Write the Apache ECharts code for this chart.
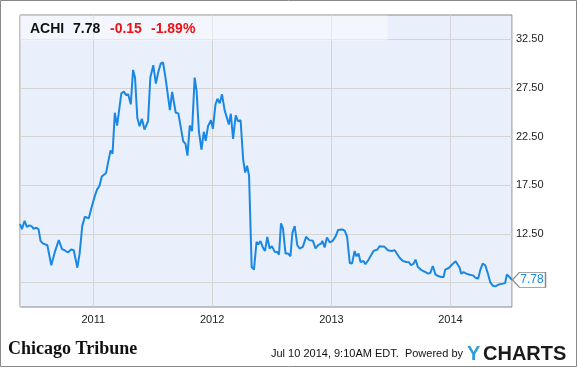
<!DOCTYPE html>
<html><head><meta charset="utf-8">
<script src="https://cdn.jsdelivr.net/npm/echarts@6/dist/echarts.min.js"></script>
<style>html,body{margin:0;padding:0;background:#fff}#c{width:578px;height:368px}</style>
</head><body><div id="c"></div>
<script>
const ticker = 'ACHI';
const lastPrice = '7.78';
const change = '-0.15';
const changePct = '-1.89%';
const yTickLabels = ['7.50','12.50','17.50','22.50','27.50','32.50'];
const dates = [
'2010-05-21','2010-05-27','2010-06-04','2010-06-11','2010-06-19','2010-06-26','2010-07-02','2010-07-10','2010-07-17','2010-07-23',
'2010-07-30','2010-08-13','2010-08-25','2010-09-05','2010-09-17','2010-09-27','2010-10-05','2010-10-10','2010-10-15','2010-10-25',
'2010-11-02','2010-11-13','2010-11-20','2010-11-28','2010-12-06','2010-12-18','2010-12-26','2011-01-05','2011-01-13','2011-01-20',
'2011-01-27','2011-02-09','2011-02-16','2011-02-23','2011-03-01','2011-03-08','2011-03-15','2011-03-28','2011-04-05','2011-04-11',
'2011-04-18','2011-04-26','2011-05-03','2011-05-09','2011-05-16','2011-05-23','2011-05-30','2011-06-07','2011-06-18','2011-06-25',
'2011-07-04','2011-07-12','2011-07-19','2011-07-27','2011-08-03','2011-08-11','2011-08-17','2011-08-24','2011-08-31','2011-09-11',
'2011-09-19','2011-10-04','2011-10-11','2011-10-17','2011-10-24','2011-10-31','2011-11-08','2011-11-14','2011-11-21','2011-11-29',
'2011-12-06','2011-12-12','2011-12-19','2011-12-28','2012-01-03','2012-01-11','2012-01-17','2012-01-24','2012-01-31','2012-02-08',
'2012-02-21','2012-02-27','2012-03-05','2012-03-13','2012-03-20','2012-03-28','2012-04-05','2012-04-11','2012-04-17','2012-04-23',
'2012-05-01','2012-05-08','2012-05-16','2012-05-21','2012-05-28','2012-06-05','2012-06-11','2012-06-18','2012-06-25','2012-07-02',
'2012-07-11','2012-07-18','2012-07-24','2012-07-30','2012-08-05','2012-08-13','2012-08-21','2012-08-28','2012-09-03','2012-09-10',
'2012-09-18','2012-09-25','2012-10-05','2012-10-15','2012-10-25','2012-11-05','2012-11-13','2012-11-21','2012-12-01','2012-12-04',
'2012-12-11','2012-12-18','2012-12-27','2013-01-05','2013-01-14','2013-01-21','2013-02-03','2013-02-11','2013-02-18','2013-02-26',
'2013-03-05','2013-03-13','2013-03-18','2013-03-25','2013-03-31','2013-04-09','2013-04-15','2013-04-25','2013-05-10','2013-05-22',
'2013-05-29','2013-06-13','2013-06-23','2013-07-04','2013-07-14','2013-07-29','2013-08-08','2013-08-19','2013-08-27','2013-09-02',
'2013-09-10','2013-09-16','2013-09-23','2013-10-01','2013-10-09','2013-10-17','2013-10-24','2013-10-31','2013-11-08','2013-11-16',
'2013-11-24','2013-12-04','2013-12-11','2013-12-16','2013-12-27','2014-01-07','2014-01-17','2014-01-22','2014-01-29','2014-02-03',
'2014-02-10','2014-02-19','2014-03-01','2014-03-11','2014-03-19','2014-03-27','2014-04-03','2014-04-10','2014-04-18','2014-04-26',
'2014-05-03','2014-05-11','2014-05-19','2014-05-30','2014-06-11','2014-06-18','2014-06-23','2014-07-01','2014-07-09'
];
const prices = [
13.52,13.00,13.86,13.24,13.39,13.28,13.04,13.14,12.97,11.80,
11.53,11.35,9.29,10.66,11.87,10.94,10.83,10.94,10.60,10.91,
10.83,9.04,10.49,13.31,14.27,14.11,15.14,16.34,17.11,17.45,
18.41,18.76,19.96,21.09,20.75,24.96,23.64,26.95,27.13,26.78,
26.85,25.82,29.36,28.57,24.44,23.57,24.34,23.23,24.09,28.57,
29.84,27.95,29.09,30.02,30.12,28.47,28.33,25.23,27.09,24.96,
24.89,22.02,21.75,20.55,23.65,23.06,28.57,27.19,23.06,21.17,
23.00,22.07,23.57,24.19,23.30,25.81,26.40,25.92,26.85,25.23,
23.75,24.85,22.27,24.68,24.09,24.19,20.13,18.82,19.51,18.48,
9.11,8.84,11.69,11.42,11.77,11.07,10.76,12.21,11.01,11.25,
10.66,10.66,10.39,13.59,13.08,10.49,10.49,10.21,12.62,13.31,
11.35,11.01,11.18,12.21,11.87,11.80,11.01,11.35,11.53,11.80,
11.11,12.15,11.63,11.80,12.28,12.90,12.97,12.83,12.21,9.52,
9.46,10.76,10.21,10.49,9.63,9.73,9.39,9.87,10.76,10.91,
11.25,11.18,10.83,10.76,10.83,10.06,9.73,9.63,9.60,9.29,
9.46,9.87,9.11,8.87,8.70,8.59,8.43,8.49,9.21,8.35,
8.18,8.08,8.08,8.84,9.01,9.39,9.70,9.73,9.05,8.43,
8.59,8.43,8.32,8.25,8.01,7.91,8.84,9.46,9.29,8.43,
7.56,7.19,7.12,7.32,7.40,7.46,8.33,8.08,7.78
];

const seriesData = dates.map((d, i) => [d, prices[i]]);
const last = seriesData[seriesData.length - 1];

const chart = echarts.init(document.getElementById('c'), null, {renderer: 'canvas'});
const FONT = '"Liberation Sans", Arial, sans-serif';
chart.setOption({
  animation: false,
  backgroundColor: '#ffffff',
  grid: {left: 20, right: 66, top: 15, bottom: 61, show: true, backgroundColor: '#e9f0fb', borderColor: '#888888', borderWidth: 1},
  xAxis: {
    type: 'time', min: '2010-05-21', max: '2014-07-09', splitNumber: 4,
    axisLine: {show: false}, axisTick: {show: false},
    axisLabel: {formatter: '{yyyy}', color: '#222', fontFamily: FONT, fontSize: 11, margin: 7, showMinLabel: false, showMaxLabel: false},
    splitLine: {show: true, lineStyle: {color: '#d4d4d4', width: 1}}
  },
  yAxis: {
    type: 'value', position: 'right', min: 5, max: 35, interval: 2.5,
    axisLine: {show: false}, axisTick: {show: false},
    axisLabel: {color: '#222', fontFamily: FONT, fontSize: 11, margin: 4,
      formatter: v => { const s = v.toFixed(2); return yTickLabels.indexOf(s) >= 0 ? s : ''; }},
    splitLine: {show: true, lineStyle: {color: ['rgba(0,0,0,0)', '#d4d4d4'], width: 1}}
  },
  series: [{
    type: 'line', data: seriesData, showSymbol: false, symbol: 'none',
    lineStyle: {color: '#1a88e3', width: 2}, itemStyle: {color: '#1a88e3'},
    markPoint: {
      silent: true,
      data: [{coord: last, value: lastPrice}],
      symbol: 'path://M0,7 L7,0 L33,0 L33,14 L7,14 Z',
      symbolSize: [33, 15], symbolOffset: [17, 0],
      itemStyle: {color: '#ffffff', borderColor: '#888888', borderWidth: 1},
      label: {show: true, position: 'inside', offset: [3, 0], color: '#1a88e3', fontFamily: FONT, fontSize: 12, formatter: lastPrice}
    }
  }],
  graphic: [
    {type: 'rect', silent: true, z: 1, shape: {x: 20.5, y: 15.5, width: 367, height: 25}, style: {fill: 'rgba(255,255,255,0.45)'}},
    {type: 'text', z: 5, left: 30, top: 22, style: {text: ticker, font: 'bold 14px ' + FONT, fill: '#111'}},
    {type: 'text', z: 5, left: 73, top: 22, style: {text: lastPrice, font: 'bold 14px ' + FONT, fill: '#111'}},
    {type: 'text', z: 5, left: 110, top: 22, style: {text: change, font: 'bold 14px ' + FONT, fill: '#ee1111'}},
    {type: 'text', z: 5, left: 151, top: 22, style: {text: changePct, font: 'bold 14px ' + FONT, fill: '#ee1111'}},
    {type: 'text', z: 5, left: 8, top: 340, style: {text: 'Chicago Tribune', font: 'bold 18px "Liberation Serif", serif', fill: '#111'}},
    {type: 'text', z: 5, right: 115, top: 348, style: {text: 'Jul 10 2014, 9:10AM EDT.  Powered by', font: '11px ' + FONT, fill: '#111'}},
    {type: 'text', z: 5, left: 467, top: 344, style: {text: 'Y', font: 'bold 20px ' + FONT, fill: '#2a9fd8'}},
    {type: 'text', z: 5, left: 483, top: 344, style: {text: 'CHARTS', font: 'bold 20px ' + FONT, fill: '#1a1a1a'}},
    {type: 'rect', silent: true, z: 10, shape: {x: 0.5, y: 0.5, width: 576, height: 366}, style: {fill: 'none', stroke: '#888888', lineWidth: 1}}
  ]
});
</script>
</body></html>
